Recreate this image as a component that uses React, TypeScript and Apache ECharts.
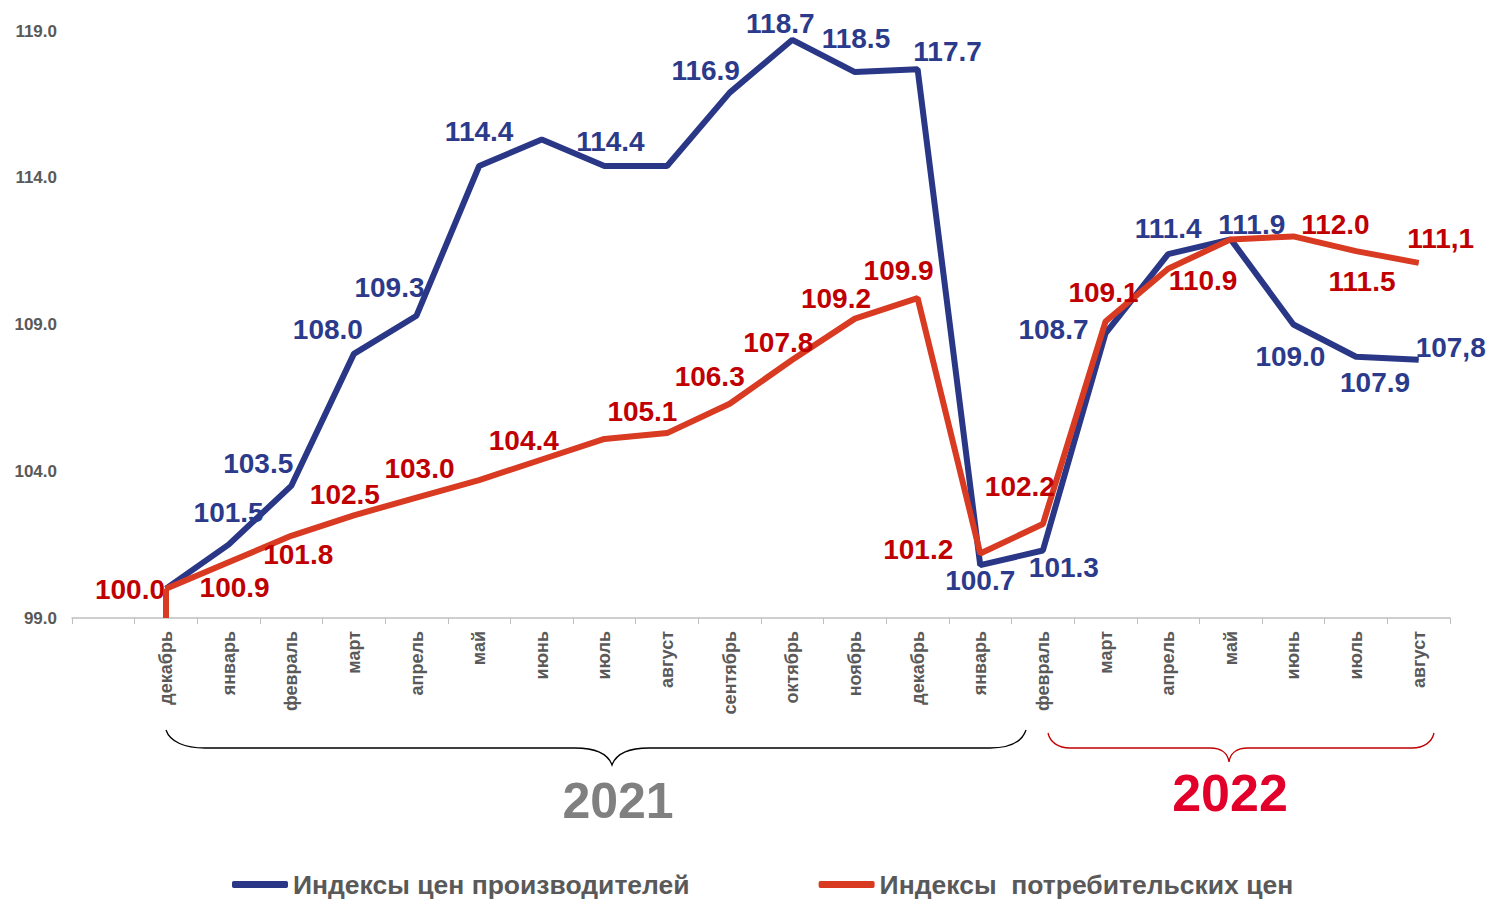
import React, { useEffect, useRef } from "react";
import * as echarts from "echarts";

const categories = ["", "декабрь", "январь", "февраль", "март", "апрель", "май", "июнь", "июль", "август", "сентябрь", "октябрь", "ноябрь", "декабрь", "январь", "февраль", "март", "апрель", "май", "июнь", "июль", "август"];

const yTicks = { min: 99, max: 119, interval: 5 };

const blueName = "Индексы цен производителей";
const redName = "Индексы  потребительских цен";

const blueValues = [null, 100.0, 101.5, 103.5, 108.0, 109.3, 114.4, 115.3, 114.4, 114.4, 116.9, 118.7, 117.6, 117.7, 100.8, 101.3, 108.7, 111.4, 111.9, 109.0, 107.9, 107.8];
const blueLabels = [null, null, "101.5", "103.5", "108.0", "109.3", "114.4", null, "114.4", null, "116.9", "118.7", "118.5", "117.7", "100.7", "101.3", "108.7", "111.4", "111.9", "109.0", "107.9", "107,8"];

const redValues = [null, 100.0, 100.9, 101.8, 102.5, 103.1, 103.7, 104.4, 105.1, 105.3, 106.3, 107.8, 109.2, 109.9, 101.2, 102.2, 109.1, 110.9, 111.9, 112.0, 111.5, 111.1];
const redLabels = [null, "100.0", "100.9", "101.8", "102.5", "103.0", null, "104.4", "105.1", null, "106.3", "107.8", "109.2", "109.9", "101.2", "102.2", "109.1", "110.9", null, "112.0", "111.5", "111,1"];

// label placement (pixel offsets from the point), kept apart from the data
const blueLabelOffsets: (number[] | null)[] = [null, null, [0, -32], [-33, -22], [-26, -24], [-27, -28], [0, -35], null, [6, -25], null, [-24, -22], [-12, -16], [1, -34], [30, -18], [0, 15], [21, 17], [-52, -4], [0, -26], [21, -15], [-3, 32], [19, 26], [32, -12]];
const redLabelOffsets: (number[] | null)[] = [null, [-36, 1], [6, 25], [7, 19], [-9, -21], [3, -29], null, [-18, -19], [38, -27], null, [-20, -27], [-14, -17], [-19, -20], [-19, -28], [-62, -4], [-23, -38], [-2, -29], [35, 12], null, [42, -12], [6, 30], [22, -24]];

const years = ["2021", "2022"];

const FONT = '"Liberation Sans", Arial, sans-serif';
const BLUE = "#293786";
const BLUE_TXT = "#2B3A8A";
const RED = "#D83A22";
const RED_TXT = "#C00000";
const GREY = "#595959";

const brace2021 = "M166,730 C170,742 185,748 205,748 L575,748 C595,748 608,754 612,765 C616,754 629,748 649,748 L990,748 C1010,748 1022,742 1026,730";
const brace2022 = "M1048,733 C1050,742 1058,748 1070,748 L1210,748 C1222,748 1228,754 1229,762 C1230,754 1236,748 1248,748 L1412,748 C1424,748 1432,742 1434,733";

echarts.graphic.registerShape("brace2021", echarts.graphic.extendPath(brace2021, {}) as any);
echarts.graphic.registerShape("brace2022", echarts.graphic.extendPath(brace2022, {}) as any);

function buildData(values: (number | null)[], labels: (string | null)[], offsets: (number[] | null)[]) {
  return values.map((v, i) => ({
    value: v === null ? "-" : v,
    label: labels[i] ? { show: true, offset: offsets[i] || [0, 0] } : { show: false },
  }));
}

export default function App() {
  const ref = useRef<HTMLDivElement>(null);
  useEffect(() => {
    if (!ref.current) return;
    const chart = echarts.init(ref.current, null, { renderer: "svg" });
    const labelBase = {
      position: "inside",
      align: "center",
      verticalAlign: "middle",
      fontSize: 28,
      fontWeight: "bold",
      fontFamily: FONT,
    };
    chart.setOption({
      animation: false,
      backgroundColor: "#ffffff",
      grid: { left: 72, right: 43, top: 31, bottom: 281, containLabel: false },
      legend: {
        left: 232,
        top: 871,
        padding: 0,
        itemGap: 129,
        itemWidth: 56,
        itemHeight: 7,
        icon: "roundRect",
        textStyle: { fontSize: 26.5, fontWeight: "bold", color: GREY, fontFamily: FONT },
        data: [
          { name: blueName, itemStyle: { color: BLUE } },
          { name: redName, itemStyle: { color: RED } },
        ],
      },
      xAxis: {
        type: "category",
        data: categories,
        boundaryGap: true,
        axisLine: { show: true, lineStyle: { color: "#BFBFBF", width: 1.5 } },
        axisTick: { show: true, length: 6, lineStyle: { color: "#BFBFBF" } },
        axisLabel: {
          rotate: 90,
          margin: 13,
          interval: 0,
          color: GREY,
          fontSize: 18,
          fontWeight: "bold",
          fontFamily: FONT,
        },
      },
      yAxis: {
        type: "value",
        min: yTicks.min,
        max: yTicks.max,
        interval: yTicks.interval,
        axisLine: { show: false },
        axisTick: { show: false },
        splitLine: { show: false },
        axisLabel: {
          margin: 15,
          color: GREY,
          fontSize: 17,
          fontWeight: "bold",
          fontFamily: FONT,
          formatter: (v: number) => v.toFixed(1),
        },
      },
      series: [
        {
          name: blueName,
          type: "line",
          data: buildData(blueValues, blueLabels, blueLabelOffsets),
          symbol: "circle",
          symbolSize: 1,
          showSymbol: true,
          showAllSymbol: true,
          connectNulls: false,
          lineStyle: { color: BLUE, width: 6 },
          itemStyle: { color: BLUE },
          label: { ...labelBase, color: BLUE_TXT, formatter: (p: any) => blueLabels[p.dataIndex] || "" },
          z: 2,
        },
        {
          name: redName,
          type: "line",
          data: buildData(redValues, redLabels, redLabelOffsets),
          symbol: "circle",
          symbolSize: 1,
          showSymbol: true,
          showAllSymbol: true,
          lineStyle: { color: RED, width: 6 },
          itemStyle: { color: RED },
          label: { ...labelBase, color: RED_TXT, formatter: (p: any) => redLabels[p.dataIndex] || "" },
          markLine: {
            silent: true,
            symbol: ["none", "none"],
            label: { show: false },
            lineStyle: { color: RED, width: 6, type: "solid" },
            data: [[{ coord: [1, yTicks.min] }, { coord: [1, redValues[1]] }]],
          },
          z: 3,
        },
      ],
      graphic: [
        { type: "brace2021", x: 0, y: 0, style: { fill: "none", stroke: "#000000", lineWidth: 1.3 }, silent: true },
        { type: "brace2022", x: 0, y: 0, style: { fill: "none", stroke: RED_TXT, lineWidth: 1.3 }, silent: true },
        {
          type: "text",
          x: 618,
          y: 801,
          style: { text: years[0], align: "center", verticalAlign: "middle", fontSize: 50, fontWeight: "bold", fontFamily: FONT, fill: "#808080" },
        },
        {
          type: "text",
          x: 1230,
          y: 793,
          style: { text: years[1], align: "center", verticalAlign: "middle", fontSize: 52, fontWeight: "bold", fontFamily: FONT, fill: "#E2002A" },
        },
      ],
    });
    return () => chart.dispose();
  }, []);
  return <div ref={ref} style={{ position: "fixed", left: 0, top: 0, width: "1493px", height: "899px" }} />;
}
